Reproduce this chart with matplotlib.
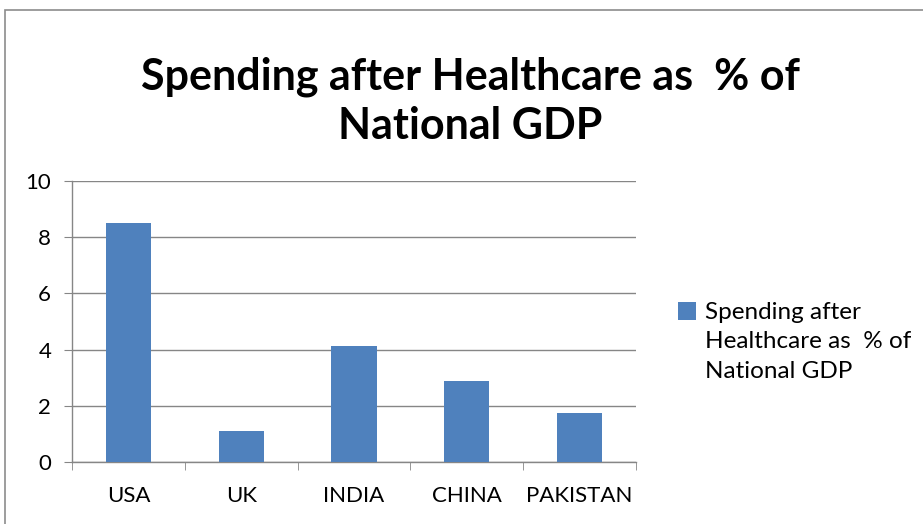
import matplotlib
matplotlib.use("Agg")
import matplotlib.pyplot as plt
from matplotlib.patches import Rectangle

countries = ["USA", "UK", "INDIA", "CHINA", "PAKISTAN"]
spending = [8.5, 1.1, 4.12, 2.9, 1.75]
series_name = "Spending after Healthcare as  % of National GDP"
legend_label = "Spending after\nHealthcare as  % of\nNational GDP"
y_ticks = [0, 2, 4, 6, 8, 10]

plt.rcParams["font.family"] = ["Lato", "DejaVu Sans"]

fig = plt.figure(figsize=(9.23, 5.24), dpi=100)

# chart-area border (runs off the right/bottom edges like the screenshot)
fig.patches.append(Rectangle((5 / 923, -0.05), 1.0, 1 - 10 / 524 + 0.05,
                             transform=fig.transFigure, fill=False,
                             edgecolor="#8c8c8c", linewidth=1.2))

ax = fig.add_axes([72 / 923, 1 - 462 / 524, (636 - 72) / 923, (462 - 181) / 524])

x = list(range(len(countries)))
ax.bar(x, spending, width=0.4, color="#4F81BD", label=legend_label, zorder=3)

ax.set_xlim(-0.5, len(countries) - 0.5)
ax.set_ylim(0, 10)
ax.set_yticks(y_ticks)
ax.set_xticks(x)
ax.set_xticklabels(countries)
ax.set_xticks([i - 0.5 for i in range(len(countries) + 1)], minor=True)

ax.grid(axis="y", color="#868686", linewidth=1.0, zorder=0)
for side in ["top", "right"]:
    ax.spines[side].set_visible(False)
for side in ["left", "bottom"]:
    ax.spines[side].set_color("#868686")
    ax.spines[side].set_linewidth(1.0)

ax.tick_params(axis="y", length=6, color="#868686", labelsize=16, pad=9)
ax.tick_params(axis="x", which="major", length=0, labelsize=16, pad=17)
ax.tick_params(axis="x", which="minor", length=6, color="#868686")

fig.text(470 / 923, 1 - 77 / 524, "Spending after Healthcare as  % of",
         ha="center", va="center", fontsize=31, fontweight="bold")
fig.text(470 / 923, 1 - 126 / 524, "National GDP",
         ha="center", va="center", fontsize=31, fontweight="bold")

leg = ax.legend(loc="upper left", bbox_to_anchor=(678 / 923, 1 - 302 / 524),
                bbox_transform=fig.transFigure, frameon=False, fontsize=17.5,
                handlelength=0.75, handleheight=0.75, handletextpad=0.35,
                borderpad=0, borderaxespad=0)
for t in leg.get_texts():
    t.set_linespacing(1.5)
# put the square next to the first line, as Excel does
for col in leg._legend_handle_box.get_children():
    for item in col.get_children():
        item.align = "top"

fig.savefig("out.png", dpi=100)
